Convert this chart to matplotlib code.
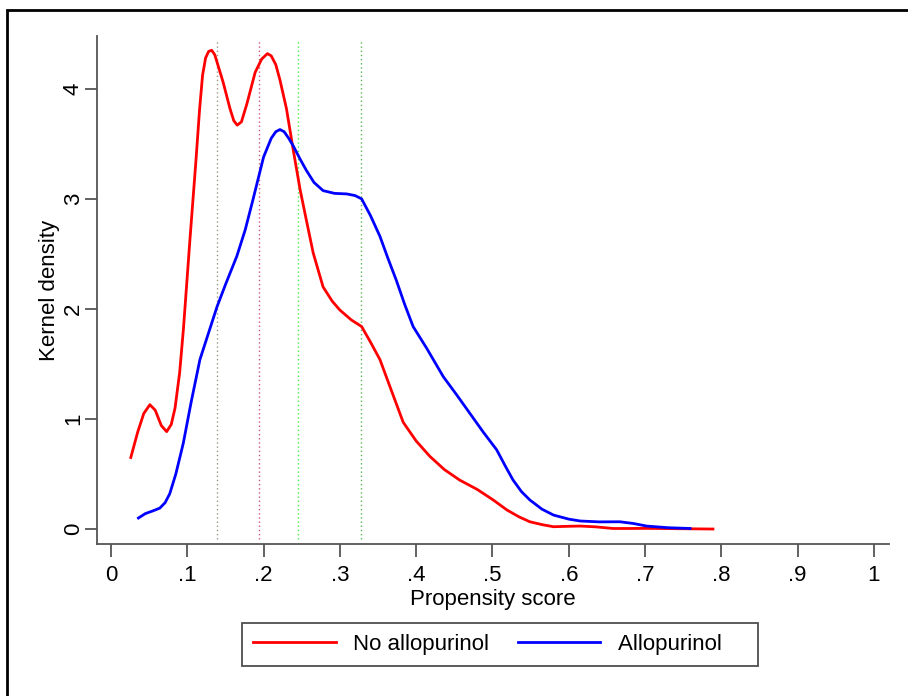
import matplotlib
matplotlib.use("Agg")
import matplotlib.pyplot as plt
from matplotlib.patches import Rectangle

plt.rcParams["font.family"] = ["Liberation Sans", "DejaVu Sans"]

# kernel density, no allopurinol
no_x = [0.026, 0.035, 0.043, 0.051, 0.058, 0.066, 0.073, 0.079, 0.084, 0.090,
        0.095, 0.1035, 0.1114, 0.116, 0.120, 0.124, 0.128, 0.132, 0.136, 0.140,
        0.147, 0.156, 0.161, 0.1655, 0.171, 0.178, 0.189, 0.1975, 0.205, 0.210,
        0.216, 0.2215, 0.230, 0.239, 0.248, 0.256, 0.265, 0.278, 0.290, 0.300,
        0.315, 0.3285, 0.340, 0.3525, 0.368, 0.383, 0.400, 0.418, 0.437, 0.457,
        0.480, 0.501, 0.519, 0.535, 0.549, 0.565, 0.580, 0.600, 0.615, 0.635,
        0.658, 0.680, 0.702, 0.730, 0.760, 0.789]
no_y = [0.65, 0.88, 1.05, 1.13, 1.08, 0.94, 0.885, 0.95, 1.10, 1.42,
        1.82, 2.63, 3.35, 3.80, 4.12, 4.28, 4.34, 4.35, 4.31, 4.22,
        4.06, 3.82, 3.71, 3.67, 3.70, 3.86, 4.15, 4.27, 4.32, 4.30,
        4.22, 4.08, 3.82, 3.44, 3.08, 2.81, 2.51, 2.20, 2.07, 1.99,
        1.90, 1.84, 1.70, 1.54, 1.25, 0.97, 0.80, 0.66, 0.54, 0.445,
        0.36, 0.264, 0.173, 0.11, 0.066, 0.04, 0.021, 0.025, 0.027, 0.02,
        0.005, 0.005, 0.006, 0.004, 0.002, 0.0]

# kernel density, allopurinol
al_x = [0.036, 0.045, 0.055, 0.064, 0.071, 0.077, 0.085, 0.0948, 0.105, 0.1166,
        0.125, 0.139, 0.150, 0.165, 0.176, 0.186, 0.200, 0.210, 0.216, 0.2215,
        0.227, 0.233, 0.239, 0.248, 0.256, 0.266, 0.278, 0.293, 0.309, 0.320,
        0.3285, 0.340, 0.3525, 0.363, 0.374, 0.385, 0.396, 0.414, 0.4355, 0.453,
        0.4705, 0.488, 0.5055, 0.517, 0.527, 0.538, 0.549, 0.565, 0.580, 0.600,
        0.615, 0.640, 0.667, 0.685, 0.702, 0.730, 0.759]
al_y = [0.10, 0.14, 0.165, 0.19, 0.24, 0.32, 0.50, 0.78, 1.15, 1.54,
        1.72, 2.02, 2.22, 2.48, 2.72, 2.99, 3.38, 3.55, 3.61, 3.63,
        3.61, 3.55, 3.48, 3.36, 3.26, 3.15, 3.075, 3.05, 3.045, 3.03,
        3.0, 2.85, 2.66, 2.46, 2.26, 2.04, 1.84, 1.64, 1.385, 1.22,
        1.05, 0.88, 0.72, 0.57, 0.445, 0.34, 0.264, 0.18, 0.127, 0.09,
        0.073, 0.065, 0.066, 0.05, 0.027, 0.012, 0.005]

vlines = [0.139, 0.194, 0.245, 0.328]
vline_colors = ["#9a9682", "#d0587a", "#44ee44", "#55bb55"]

xticks = [0, 0.1, 0.2, 0.3, 0.4, 0.5, 0.6, 0.7, 0.8, 0.9, 1.0]
xticklabels = ["0", ".1", ".2", ".3", ".4", ".5", ".6", ".7", ".8", ".9", "1"]
yticks = [0, 1, 2, 3, 4]

fig = plt.figure(figsize=(9.08, 6.96), dpi=100)
ax = fig.add_axes([97 / 908, 152 / 696, 792 / 908, 508 / 696])

for xv, c in zip(vlines, vline_colors):
    ax.axvline(xv, ymin=0.01, ymax=0.995, color=c, lw=1.0, ls=(0, (1, 2)))

ax.plot(no_x, no_y, color="red", lw=2, label="No allopurinol",
        solid_joinstyle="round")
ax.plot(al_x, al_y, color="blue", lw=2, label="Allopurinol    ",
        solid_joinstyle="round")

ax.set_xlim(-0.0183, 1.0197)
ax.set_ylim(-0.136, 4.48)
ax.set_xticks(xticks)
ax.set_xticklabels(xticklabels)
ax.set_yticks(yticks)
ax.set_yticklabels([str(v) for v in yticks], rotation=90, va="center")

for s in ["top", "right"]:
    ax.spines[s].set_visible(False)
for s in ["left", "bottom"]:
    ax.spines[s].set_color("#555555")
    ax.spines[s].set_linewidth(1.3)
ax.tick_params(axis="both", length=9, width=1.3, color="#555555",
               labelsize=16)
ax.tick_params(axis="x", pad=6)
ax.tick_params(axis="y", pad=0.5)

ax.set_xlabel("Propensity score", fontsize=16, labelpad=2)
ax.set_ylabel("Kernel density", fontsize=16, labelpad=2)

leg = fig.legend(loc="center", bbox_to_anchor=(500 / 908, 1 - 644.5 / 696),
                 ncol=2, fontsize=16, frameon=True, fancybox=False,
                 handlelength=3.7, handletextpad=0.8, columnspacing=1.3,
                 borderpad=0.5, borderaxespad=0)
leg.get_frame().set_edgecolor("#222222")
leg.get_frame().set_linewidth(1.3)

# outer frame of the graph region
fig.patches.append(Rectangle((7 / 908, -0.1), 1.2, 1 - 10 / 696 + 0.1,
                             transform=fig.transFigure, fill=False,
                             edgecolor="black", lw=2))

fig.savefig("out.png", dpi=100)
